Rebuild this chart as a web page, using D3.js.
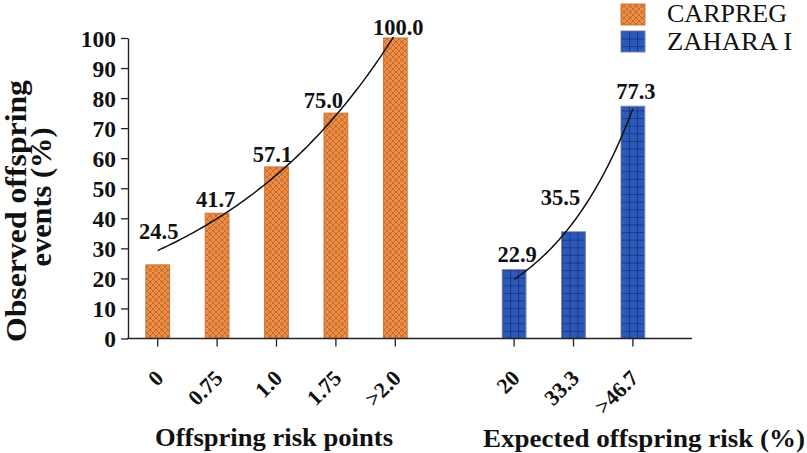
<!DOCTYPE html>
<html>
<head>
<meta charset="utf-8">
<script src="https://cdn.jsdelivr.net/npm/d3@7"></script>
<style>
  html, body { margin: 0; padding: 0; background: #fff; }
  svg { display: block; }
  text { font-family: "Liberation Serif", "DejaVu Serif", serif; fill: #111; }
</style>
</head>
<body>
<svg id="chart" width="807" height="453"></svg>
<script>
// ---------------- data ----------------
const carpregCategories = ["0", "0.75", "1.0", "1.75", ">2.0"];
const carpregValues     = [24.5, 41.7, 57.1, 75.0, 100.0];
const carpregLabels     = ["24.5", "41.7", "57.1", "75.0", "100.0"];

const zaharaCategories  = ["20", "33.3", ">46.7"];
const zaharaValues      = [22.9, 35.5, 77.3];
const zaharaLabels      = ["22.9", "35.5", "77.3"];

const yTicks = [0, 10, 20, 30, 40, 50, 60, 70, 80, 90, 100];
const seriesNames = ["CARPREG", "ZAHARA I"];
const xTitleLeft  = "Offspring risk points";
const xTitleRight = "Expected offspring risk (%)";
const yTitleLines = ["Observed offspring", "events (%)"];

// ---------------- layout ----------------
const svg = d3.select("#chart");
const defs = svg.append("defs");
const GAP = "__gap__";
const domain = [...carpregCategories, GAP, ...zaharaCategories];

const axisLeftX = 128, axisRightX = 692, baseY = 338.5, topY = 38;
const step = 59.4;
const x = d3.scaleBand()
  .domain(domain)
  .range([axisLeftX, axisLeftX + domain.length * step])
  .paddingInner(0.6)
  .paddingOuter(0.3);
const y = d3.scaleLinear().domain([0, 100]).range([baseY, topY]);

const ORANGE = "#EF8B3F", ORANGE_LINE = "#B9662E", ORANGE_EDGE = "#C9773C";
const BLUE = "#2A5ABD", BLUE_LINE = "#1A2D68", BLUE_EDGE = "#7D84AE";

// orange lattice pattern
const op = defs.append("pattern").attr("id", "pOrange")
  .attr("patternUnits", "userSpaceOnUse").attr("width", 6).attr("height", 6);
op.append("rect").attr("width", 6).attr("height", 6).attr("fill", ORANGE);
op.append("circle").attr("cx", 3).attr("cy", 3).attr("r", 1.6).attr("fill", "#F6A260");
op.append("path").attr("d", "M0,0L6,6M6,0L0,6M-1,5L1,7M5,-1L7,1M-1,1L1,-1M5,7L7,5")
  .attr("stroke", ORANGE_LINE).attr("stroke-width", 0.9);

// blue grid pattern (one per bar, aligned with the bar)
function bluePattern(id, x0, y0, w) {
  const cw = w / 3, ch = 7.6;
  const p = defs.append("pattern").attr("id", id)
    .attr("patternUnits", "userSpaceOnUse")
    .attr("x", x0).attr("y", y0).attr("width", cw).attr("height", ch);
  p.append("rect").attr("width", cw).attr("height", ch).attr("fill", BLUE);
  p.append("path").attr("d", `M0,0H${cw}M0,0V${ch}`)
    .attr("stroke", BLUE_LINE).attr("stroke-width", 1.6);
}

// clip for trend curves (plot area)
defs.append("clipPath").attr("id", "plotClip")
  .append("rect").attr("x", axisLeftX).attr("y", topY - 1)
  .attr("width", axisRightX - axisLeftX).attr("height", baseY - topY + 1);

// ---------------- bars ----------------
const bw = x.bandwidth();
svg.append("g").selectAll("rect")
  .data(carpregCategories.map((c, i) => ({ c, v: carpregValues[i] })))
  .join("rect")
  .attr("x", d => x(d.c)).attr("y", d => y(d.v))
  .attr("width", bw).attr("height", d => y(0) - y(d.v))
  .attr("fill", "url(#pOrange)").attr("stroke", ORANGE_EDGE).attr("stroke-width", 1);

const zData = zaharaCategories.map((c, i) => ({ c, v: zaharaValues[i], id: "pBlue" + i }));
zData.forEach(d => bluePattern(d.id, x(d.c), y(0), bw));
svg.append("g").selectAll("rect")
  .data(zData)
  .join("rect")
  .attr("x", d => x(d.c)).attr("y", d => y(d.v))
  .attr("width", bw).attr("height", d => y(0) - y(d.v))
  .attr("fill", d => `url(#${d.id})`).attr("stroke", BLUE_EDGE).attr("stroke-width", 1);

// ---------------- exponential trend (least squares y = a e^{bx}) ----------------
function expFit(vals) {
  const n = vals.length, xs = vals.map((_, i) => i);
  const ly = vals.map(Math.log);
  const mx = d3.mean(xs), my = d3.mean(ly);
  let b = d3.sum(xs, (xi, i) => (xi - mx) * (ly[i] - my)) / d3.sum(xs, xi => (xi - mx) ** 2);
  let a = Math.exp(my - b * mx);
  for (let it = 0; it < 50; it++) {
    let j11 = 0, j12 = 0, j22 = 0, g1 = 0, g2 = 0;
    for (let i = 0; i < n; i++) {
      const e = Math.exp(b * xs[i]);
      const r = vals[i] - a * e;
      const da = e, db = a * xs[i] * e;
      j11 += da * da; j12 += da * db; j22 += db * db;
      g1 += da * r; g2 += db * r;
    }
    const det = j11 * j22 - j12 * j12;
    a += (j22 * g1 - j12 * g2) / det;
    b += (j11 * g2 - j12 * g1) / det;
  }
  return { a, b };
}
function drawTrend(cats, vals) {
  const f = expFit(vals);
  const n = vals.length;
  const pts = d3.range(0, (n - 1) + 1e-9, (n - 1) / 80).map(t => {
    const cx = x(cats[0]) + bw / 2 + t * (x(cats[1]) - x(cats[0]));
    return [cx, y(f.a * Math.exp(f.b * t))];
  });
  svg.append("path").attr("d", d3.line().curve(d3.curveLinear)(pts))
    .attr("fill", "none").attr("stroke", "#111").attr("stroke-width", 1.5)
    .attr("clip-path", "url(#plotClip)");
}
drawTrend(carpregCategories, carpregValues);
drawTrend(zaharaCategories, zaharaValues);

// ---------------- value labels ----------------
const labelNudge = { // [dx, dy] relative to bar top centre
  "24.5": [1, -26], "41.7": [-1.5, -6], "57.1": [-4, -5], "75.0": [-12.5, -5],
  "100.0": [3, -3], "22.9": [3, -8], "35.5": [-13, -27], "77.3": [3, -7]
};
function drawLabels(cats, vals, labels) {
  svg.append("g").selectAll("text")
    .data(cats.map((c, i) => ({ c, v: vals[i], t: labels[i] })))
    .join("text")
    .attr("x", d => x(d.c) + bw / 2 + labelNudge[d.t][0])
    .attr("y", d => y(d.v) + labelNudge[d.t][1])
    .attr("text-anchor", "middle")
    .attr("font-size", 22.5).attr("font-weight", "bold")
    .text(d => d.t);
}
drawLabels(carpregCategories, carpregValues, carpregLabels);
drawLabels(zaharaCategories, zaharaValues, zaharaLabels);

// ---------------- axes ----------------
const yAxis = svg.append("g").attr("transform", `translate(${axisLeftX},0)`)
  .call(d3.axisLeft(y).tickValues(yTicks).tickSize(7).tickSizeOuter(0).tickPadding(5));
yAxis.select(".domain").attr("stroke", "#222").attr("stroke-width", 1.4);
yAxis.selectAll(".tick line").attr("stroke", "#222").attr("stroke-width", 1.3);
yAxis.selectAll(".tick text")
  .attr("font-family", "Liberation Serif, serif").attr("font-size", 23.5)
  .attr("font-weight", "bold").attr("fill", "#111").attr("dy", "0.34em");

const xAxis = svg.append("g").attr("transform", `translate(0,${baseY})`)
  .call(d3.axisBottom(x).tickValues([...carpregCategories, ...zaharaCategories])
    .tickSize(8).tickSizeOuter(0));
xAxis.select(".domain").remove();
xAxis.selectAll(".tick line").attr("stroke", "#222").attr("stroke-width", 1.3);
xAxis.selectAll(".tick text")
  .attr("font-family", "Liberation Serif, serif").attr("font-size", 22)
  .attr("font-weight", "bold").attr("fill", "#111")
  .attr("text-anchor", "end")
  .attr("y", 0).attr("dy", 0)
  .attr("transform", "translate(7,41) rotate(-45)");
svg.append("line")
  .attr("x1", axisLeftX - 0.7).attr("x2", axisRightX)
  .attr("y1", baseY).attr("y2", baseY)
  .attr("stroke", "#222").attr("stroke-width", 1.4);

// ---------------- titles ----------------
svg.append("text").attr("x", 274).attr("y", 446)
  .attr("text-anchor", "middle").attr("font-size", 26).attr("font-weight", "bold")
  .attr("textLength", 238).attr("lengthAdjust", "spacingAndGlyphs")
  .text(xTitleLeft);
svg.append("text").attr("x", 483).attr("y", 447)
  .attr("text-anchor", "start").attr("font-size", 26).attr("font-weight", "bold")
  .attr("textLength", 322).attr("lengthAdjust", "spacingAndGlyphs")
  .text(xTitleRight);

svg.append("text").attr("transform", "translate(26,211) rotate(-90)")
  .attr("text-anchor", "middle").attr("font-size", 28.5).attr("font-weight", "bold")
  .attr("textLength", 262).attr("lengthAdjust", "spacingAndGlyphs")
  .text(yTitleLines[0]);
svg.append("text").attr("transform", "translate(51,197) rotate(-90)")
  .attr("text-anchor", "middle").attr("font-size", 28.5).attr("font-weight", "bold")
  .attr("textLength", 139).attr("lengthAdjust", "spacingAndGlyphs")
  .text(yTitleLines[1]);

// ---------------- legend ----------------
bluePattern("pBlueLegend", 621, 31, 24);
const legend = svg.append("g");
const legendFills = ["url(#pOrange)", "url(#pBlueLegend)"];
const legendEdges = [ORANGE_EDGE, BLUE_EDGE];
const legendLens = [120, 125];
seriesNames.forEach((name, i) => {
  legend.append("rect").attr("x", 621).attr("y", 4 + i * 27)
    .attr("width", 24).attr("height", 21)
    .attr("fill", legendFills[i]).attr("stroke", legendEdges[i]).attr("stroke-width", 1);
  legend.append("text").attr("x", 667).attr("y", 22 + i * 28)
    .attr("font-size", 25)
    .attr("textLength", legendLens[i]).attr("lengthAdjust", "spacingAndGlyphs")
    .text(name);
});
</script>
</body>
</html>
